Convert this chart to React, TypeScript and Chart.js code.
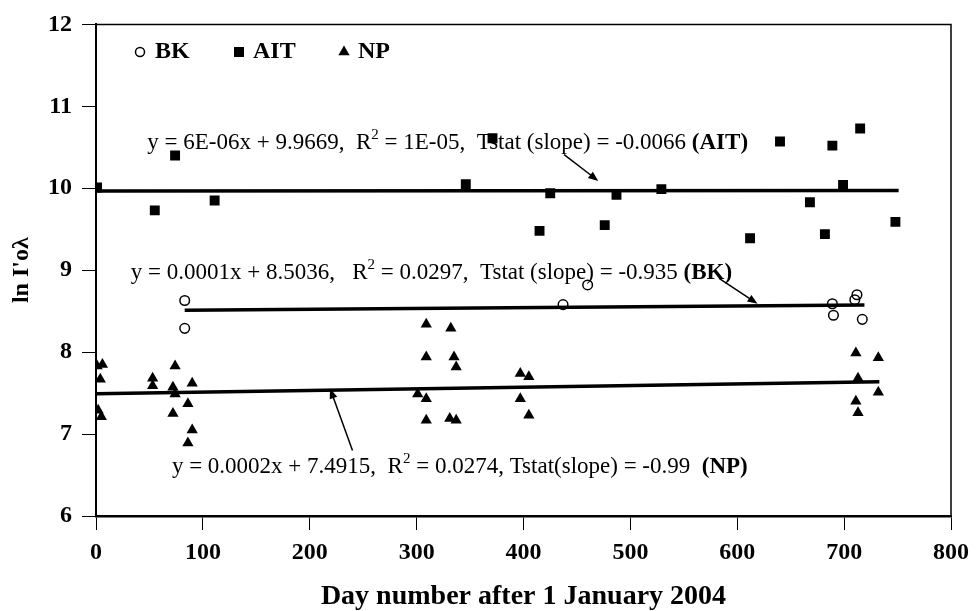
import React, { useEffect, useRef } from 'react';
import { Chart, registerables } from 'chart.js';

Chart.register(...registerables);

// ---------- data ----------
const bkDays = [83, 83, 437, 460, 689, 690, 710, 712, 717];
const bkValues = [8.63, 8.29, 8.58, 8.82, 8.59, 8.45, 8.64, 8.7, 8.4];

const aitDays = [1, 55, 74, 111, 346, 371, 415, 425, 476, 487, 529, 612, 640, 668, 682, 689, 699, 715, 748];
const aitValues = [10.01, 9.73, 10.4, 9.85, 10.05, 10.61, 9.48, 9.94, 9.55, 9.92, 9.99, 9.39, 10.57, 9.83, 9.44, 10.52, 10.04, 10.73, 9.59];

const npDays = [1, 6, 4, 2, 5, 53, 53, 74, 72, 74, 72, 90, 86, 90, 86, 309, 332, 309, 335, 337, 397, 405, 301, 309, 397, 309, 331, 337, 405, 711, 732, 713, 732, 711, 713];
const npValues = [7.83, 7.85, 7.67, 7.29, 7.21, 7.68, 7.59, 7.83, 7.57, 7.49, 7.25, 7.62, 7.37, 7.05, 6.89, 8.34, 8.29, 7.94, 7.94, 7.82, 7.74, 7.7, 7.49, 7.43, 7.43, 7.17, 7.19, 7.17, 7.23, 7.99, 7.93, 7.68, 7.51, 7.4, 7.26];

const aitFitX = [0, 751];
const aitFitY = [9.9669, 9.9714];
const bkFitX = [83, 719];
const bkFitY = [8.5119, 8.5755];
const npFitX = [0, 733];
const npFitY = [7.4915, 7.6381];

const xTicks = [0, 100, 200, 300, 400, 500, 600, 700, 800];
const yTicks = [6, 7, 8, 9, 10, 11, 12];

const legendLabels = ['BK', 'AIT', 'NP'];

const aitText = ['y = 6E-06x + 9.9669,  R', '2', ' = 1E-05,  Tstat (slope) = -0.0066 ', '(AIT)'];
const bkText = ['y = 0.0001x + 8.5036,   R', '2', ' = 0.0297,  Tstat (slope) = -0.935 ', '(BK)'];
const npText = ['y = 0.0002x + 7.4915,  R', '2', ' = 0.0274, Tstat(slope) = -0.99  ', '(NP)'];

const xTitle = 'Day number after 1 January 2004';
const yTitle = "ln I'o\u03bb";

// ---------- styles ----------
const SERIF = '"Liberation Serif", "Times New Roman", serif';

const toPts = (xs: number[], ys: number[]) => xs.map((x, i) => ({ x, y: ys[i] }));

const annotations = [
  { x: 48, y: 10.55, parts: aitText, arrow: [438, 10.41, 470, 10.09] },
  { x: 32.5, y: 8.97, parts: bkText, arrow: [583, 8.9, 619, 8.59] },
  { x: 71, y: 6.6, parts: npText, arrow: [240, 6.8, 219, 7.555] },
];

const framePlugin = {
  id: 'frame',
  afterDraw(chart: any) {
    const { ctx, chartArea } = chart;
    const { left, right, top, bottom } = chartArea;
    ctx.save();
    ctx.strokeStyle = '#000';
    ctx.lineWidth = 1.5;
    ctx.beginPath();
    ctx.moveTo(left, top);
    ctx.lineTo(right, top);
    ctx.lineTo(right, bottom);
    ctx.stroke();
    ctx.restore();
  },
};

const annotationPlugin = {
  id: 'annot',
  afterDatasetsDraw(chart: any) {
    const { ctx, scales } = chart;
    const xs = scales.x;
    const ys = scales.y;
    ctx.save();
    ctx.fillStyle = '#000';
    ctx.strokeStyle = '#000';
    ctx.textBaseline = 'middle';
    ctx.textAlign = 'left';
    const normal = `23px ${SERIF}`;
    const sup = `15px ${SERIF}`;
    const bold = `bold 23px ${SERIF}`;
    for (const a of annotations) {
      let px = xs.getPixelForValue(a.x);
      const py = ys.getPixelForValue(a.y);
      const fonts = [normal, sup, normal, bold];
      const dy = [0, -8, 0, 0];
      a.parts.forEach((t, i) => {
        ctx.font = fonts[i];
        ctx.fillText(t, px, py + dy[i]);
        px += ctx.measureText(t).width;
      });
      // arrow
      const [x1, y1, x2, y2] = a.arrow;
      const sx = xs.getPixelForValue(x1);
      const sy = ys.getPixelForValue(y1);
      const ex = xs.getPixelForValue(x2);
      const ey = ys.getPixelForValue(y2);
      const ang = Math.atan2(ey - sy, ex - sx);
      const hl = 10;
      const hw = 4;
      ctx.lineWidth = 1.5;
      ctx.beginPath();
      ctx.moveTo(sx, sy);
      ctx.lineTo(ex - Math.cos(ang) * hl * 0.8, ey - Math.sin(ang) * hl * 0.8);
      ctx.stroke();
      ctx.beginPath();
      ctx.moveTo(ex, ey);
      ctx.lineTo(ex - Math.cos(ang) * hl - Math.sin(ang) * hw, ey - Math.sin(ang) * hl + Math.cos(ang) * hw);
      ctx.lineTo(ex - Math.cos(ang) * hl + Math.sin(ang) * hw, ey - Math.sin(ang) * hl - Math.cos(ang) * hw);
      ctx.closePath();
      ctx.fill();
    }
    ctx.restore();
  },
};

const legendPlugin = {
  id: 'customLegend',
  afterDraw(chart: any) {
    const { ctx } = chart;
    ctx.save();
    ctx.fillStyle = '#000';
    ctx.strokeStyle = '#000';
    ctx.textBaseline = 'middle';
    ctx.textAlign = 'left';
    ctx.font = `bold 24px ${SERIF}`;
    const cy = 52;
    // BK: open circle
    ctx.lineWidth = 1.5;
    ctx.beginPath();
    ctx.arc(140, cy, 4.5, 0, Math.PI * 2);
    ctx.stroke();
    ctx.fillText(legendLabels[0], 155, cy);
    // AIT: filled square
    ctx.fillRect(239 - 5, cy - 5, 10, 10);
    ctx.fillText(legendLabels[1], 253, cy);
    // NP: filled triangle
    const r = 6.5;
    ctx.beginPath();
    ctx.moveTo(344, cy - r);
    ctx.lineTo(344 + r * 0.866, cy + r * 0.5);
    ctx.lineTo(344 - r * 0.866, cy + r * 0.5);
    ctx.closePath();
    ctx.fill();
    ctx.fillText(legendLabels[2], 358, cy);
    ctx.restore();
  },
};

export default function App() {
  const canvasRef = useRef<HTMLCanvasElement | null>(null);

  useEffect(() => {
    if (!canvasRef.current) return;
    const tickFont = { family: SERIF, size: 24, weight: 'bold' as const };
    const chart = new Chart(canvasRef.current, {
      type: 'scatter',
      data: {
        datasets: [
          {
            label: 'BK',
            data: toPts(bkDays, bkValues),
            pointStyle: 'circle',
            pointRadius: 4.8,
            pointBorderWidth: 1.5,
            borderColor: '#000',
            backgroundColor: 'rgba(0,0,0,0)',
            order: 1,
          },
          {
            label: 'AIT',
            data: toPts(aitDays, aitValues),
            pointStyle: 'rect',
            pointRadius: 7,
            pointBorderWidth: 0,
            borderColor: '#000',
            backgroundColor: '#000',
            order: 1,
          },
          {
            label: 'NP',
            data: toPts(npDays, npValues),
            pointStyle: 'triangle',
            pointRadius: 6.5,
            pointBorderWidth: 0,
            borderColor: '#000',
            backgroundColor: '#000',
            order: 1,
          },
          {
            label: 'AIT fit',
            type: 'line',
            data: toPts(aitFitX, aitFitY),
            showLine: true,
            pointRadius: 0,
            borderWidth: 3.5,
            borderColor: '#000',
            order: 2,
          } as any,
          {
            label: 'BK fit',
            type: 'line',
            data: toPts(bkFitX, bkFitY),
            showLine: true,
            pointRadius: 0,
            borderWidth: 3.5,
            borderColor: '#000',
            order: 2,
          } as any,
          {
            label: 'NP fit',
            type: 'line',
            data: toPts(npFitX, npFitY),
            showLine: true,
            pointRadius: 0,
            borderWidth: 3.5,
            borderColor: '#000',
            order: 2,
          } as any,
        ],
      },
      options: {
        responsive: false,
        animation: false,
        devicePixelRatio: 1,
        layout: { padding: { top: 22, right: 19, left: 0, bottom: 0 } },
        plugins: {
          legend: { display: false },
          tooltip: { enabled: false },
        },
        scales: {
          x: {
            type: 'linear',
            min: xTicks[0],
            max: xTicks[xTicks.length - 1],
            afterFit: (s: any) => {
              s.height = 95;
            },
            afterBuildTicks: (s: any) => {
              s.ticks = xTicks.map((v) => ({ value: v }));
            },
            ticks: { font: tickFont, color: '#000', padding: 8, maxRotation: 0 },
            grid: { drawOnChartArea: false, drawTicks: true, tickLength: 14, color: '#000', lineWidth: 1 },
            border: { color: '#000', width: 2.5 },
            title: {
              display: true,
              text: xTitle,
              color: '#000',
              font: { family: SERIF, size: 28, weight: 'bold', lineHeight: 1 },
              padding: { top: 0, bottom: 0 },
            },
          },
          y: {
            type: 'linear',
            min: yTicks[0],
            max: yTicks[yTicks.length - 1],
            afterFit: (s: any) => {
              s.width = 96;
            },
            afterBuildTicks: (s: any) => {
              s.ticks = yTicks.map((v) => ({ value: v }));
            },
            ticks: { font: tickFont, color: '#000', padding: 10 },
            grid: { drawOnChartArea: false, drawTicks: true, tickLength: 14, color: '#000', lineWidth: 1 },
            border: { color: '#000', width: 2 },
            title: {
              display: true,
              text: yTitle,
              color: '#000',
              font: { family: SERIF, size: 24, weight: 'bold', lineHeight: 1 },
              padding: { top: 10, bottom: 0 },
            },
          },
        },
      } as any,
      plugins: [framePlugin, annotationPlugin, legendPlugin],
    });
    return () => chart.destroy();
  }, []);

  return (
    <div style={{ position: 'fixed', left: 0, top: 0, width: 977, height: 611, background: '#fff' }}>
      <canvas ref={canvasRef} width={977} height={611} style={{ display: 'block', width: 977, height: 611 }} />
    </div>
  );
}
